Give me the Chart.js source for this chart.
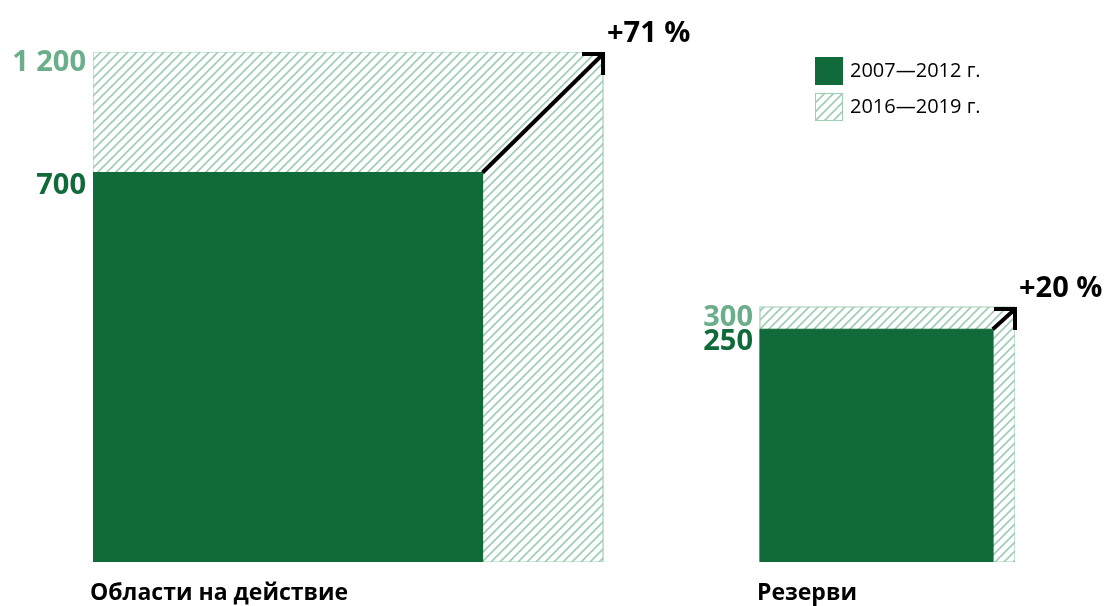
<!DOCTYPE html>
<html>
<head>
<meta charset="utf-8">
<script src="https://cdn.jsdelivr.net/npm/chart.js@4.4.1/dist/chart.umd.min.js"></script>
<style>
  html, body { margin: 0; padding: 0; background: #fff; }
  #wrap { width: 1104px; height: 606px; position: relative; }
</style>
</head>
<body>
<div id="wrap"><canvas id="chart"></canvas></div>
<script>
const categories = ["Области на действие", "Резерви"]
const seriesNames = ["2007—2012 г.", "2016—2019 г."]
const values2007 = [700, 250]
const values2016 = [1200, 300]
const changeLabels = ["+71 %", "+20 %"]

// where each square starts on the x axis (same units as a square's side = sqrt(value))
const groupStart = [0, 45.3]

const DARK = "#116a39"
const LIGHT_TEXT = "#6bae8b"
const HATCH = "#9fcdb4"
const FONT = "'Open Sans', sans-serif"

function makeHatch() {
  const size = 9
  const c = document.createElement("canvas")
  c.width = size
  c.height = size
  const g = c.getContext("2d")
  g.strokeStyle = HATCH
  g.lineWidth = 1.6
  g.beginPath()
  g.moveTo(0, size); g.lineTo(size, 0)
  g.moveTo(-3, 3); g.lineTo(3, -3)
  g.moveTo(size - 3, size + 3); g.lineTo(size + 3, size - 3)
  g.stroke()
  return g.createPattern(c, "repeat")
}

function square(x0, value) {
  const s = Math.sqrt(value)
  return [
    { x: x0, y: 0 }, { x: x0, y: s }, { x: x0 + s, y: s },
    { x: x0 + s, y: 0 }, { x: x0, y: 0 },
  ]
}

function fmt(v) {
  return String(v).replace(/\B(?=(\d{3})+(?!\d))/g, " ")
}

const hatch = makeHatch()

const datasets = []
categories.forEach((cat, i) => {
  datasets.push({
    label: seriesNames[1],
    data: square(groupStart[i], values2016[i]),
    showLine: true,
    fill: "shape",
    backgroundColor: hatch,
    borderColor: HATCH,
    borderWidth: 1.2,
    pointRadius: 0,
    tension: 0,
    order: 1,
  })
  datasets.push({
    label: seriesNames[0],
    data: square(groupStart[i], values2007[i]),
    showLine: true,
    fill: "shape",
    backgroundColor: DARK,
    borderColor: DARK,
    borderWidth: 1,
    pointRadius: 0,
    tension: 0,
    order: 0,
  })
})

const annotations = {
  id: "annotations",
  afterDatasetsDraw(chart) {
    const { ctx, scales: { x, y } } = chart
    ctx.save()

    categories.forEach((cat, i) => {
      const x0 = groupStart[i]
      const sOut = Math.sqrt(values2016[i])
      const sIn = Math.sqrt(values2007[i])
      const left = x.getPixelForValue(x0)
      const outTop = y.getPixelForValue(sOut)
      const inTop = y.getPixelForValue(sIn)
      const bottom = y.getPixelForValue(0)

      // value labels
      ctx.font = "bold 29px " + FONT
      ctx.textAlign = "right"
      ctx.textBaseline = "middle"
      ctx.fillStyle = LIGHT_TEXT
      ctx.fillText(fmt(values2016[i]), left - 7, outTop + 11)
      ctx.fillStyle = DARK
      ctx.fillText(fmt(values2007[i]), left - 7, inTop + 13)

      // arrow
      const fx = x.getPixelForValue(x0 + sIn)
      const tx = x.getPixelForValue(x0 + sOut)
      const ty = outTop + 2
      ctx.strokeStyle = "#000"
      ctx.lineWidth = 4
      ctx.lineJoin = "miter"
      ctx.lineCap = "butt"
      ctx.beginPath()
      ctx.moveTo(fx, inTop)
      ctx.lineTo(tx - 1, ty + 1)
      ctx.stroke()
      ctx.beginPath()
      ctx.moveTo(tx - 21, ty)
      ctx.lineTo(tx, ty)
      ctx.lineTo(tx, ty + 21)
      ctx.stroke()

      // change label
      ctx.font = "bold 29px " + FONT
      ctx.textAlign = "left"
      ctx.fillStyle = "#000"
      ctx.fillText(changeLabels[i], tx + 4, outTop - 18)

      // category label
      ctx.font = "bold 23px " + FONT
      ctx.fillText(cat, left - 3, bottom + 31)
    })

    // legend
    const lx = 815
    const rows = [{ y: 57, fill: DARK, stroke: DARK }, { y: 93, fill: hatch, stroke: HATCH }]
    ctx.font = "20px " + FONT
    ctx.textAlign = "left"
    ctx.textBaseline = "middle"
    rows.forEach((r, k) => {
      ctx.fillStyle = r.fill
      ctx.fillRect(lx, r.y, 28, 28)
      ctx.strokeStyle = r.stroke
      ctx.lineWidth = 1
      ctx.strokeRect(lx + 0.5, r.y + 0.5, 27, 27)
      ctx.fillStyle = "#000"
      ctx.fillText(seriesNames[k], lx + 35, r.y + 14)
    })

    ctx.restore()
  },
}

const yMax = Math.sqrt(Math.max(...values2016))
const xMax = groupStart[1] + Math.sqrt(values2016[1])

new Chart(document.getElementById("chart"), {
  type: "scatter",
  data: { datasets },
  options: {
    responsive: true,
    maintainAspectRatio: false,
    animation: false,
    layout: { padding: { left: 93, right: 89, top: 52, bottom: 44 } },
    scales: {
      x: { type: "linear", min: 0, max: xMax, display: false },
      y: { type: "linear", min: 0, max: yMax, display: false },
    },
    plugins: {
      legend: { display: false },
      tooltip: { enabled: false },
    },
  },
  plugins: [annotations],
})
</script>
</body>
</html>
